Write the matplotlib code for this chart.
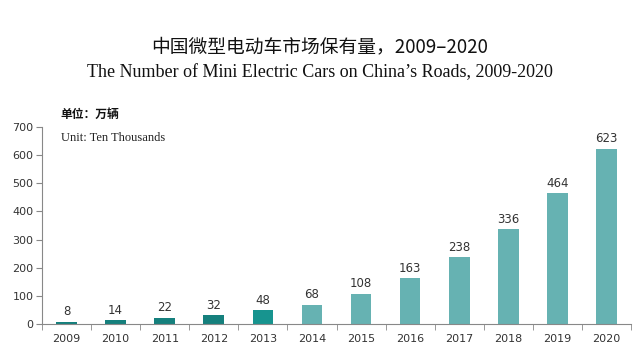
import matplotlib
matplotlib.use("Agg")
import matplotlib.pyplot as plt

years = ["2009", "2010", "2011", "2012", "2013", "2014", "2015", "2016", "2017", "2018", "2019", "2020"]
values = [8, 14, 22, 32, 48, 68, 108, 163, 238, 336, 464, 623]
colors = ["#15807d", "#15807d", "#15807d", "#15807d", "#17948f",
          "#66b2b2", "#66b2b2", "#66b2b2", "#66b2b2", "#66b2b2", "#66b2b2", "#66b2b2"]
yticks = [0, 100, 200, 300, 400, 500, 600, 700]

plt.rcParams['font.family'] = ['DejaVu Sans', 'Noto Sans CJK SC']

fig = plt.figure(figsize=(6.4, 3.61), dpi=100)
ax = fig.add_axes([0.0656, 0.1025, 0.9204, 0.5455])

x = list(range(len(years)))
ax.bar(x, values, width=0.42, color=colors, zorder=2)
for xi, v in zip(x, values):
    ax.text(xi, v + 12, str(v), ha='center', va='bottom', fontsize=8.5, color='#333333')

ax.set_xlim(-0.5, len(years) - 0.5)
ax.set_ylim(0, 700)
ax.set_yticks(yticks)
ax.set_yticklabels([str(t) for t in yticks], fontsize=8, color='#333333')
ax.set_xticks(x)
ax.set_xticklabels(years, fontsize=8, color='#333333')
ax.set_xticks([i - 0.5 for i in range(len(years) + 1)], minor=True)
ax.tick_params(axis='x', which='major', length=0, pad=7)
ax.tick_params(axis='x', which='minor', length=4, color='#888888', direction='out')
ax.tick_params(axis='y', length=4, color='#888888', direction='out', pad=2)
for s in ['top', 'right']:
    ax.spines[s].set_visible(False)
for s in ['left', 'bottom']:
    ax.spines[s].set_color('#888888')
    ax.spines[s].set_linewidth(0.8)

fig.text(0.5, 0.87, "中国微型电动车市场保有量，2009–2020", ha='center', va='center',
         fontsize=13.5, family=['Noto Sans CJK SC', 'DejaVu Sans'], color='#111111')
fig.text(0.5, 0.80, "The Number of Mini Electric Cars on China’s Roads, 2009-2020", ha='center', va='center',
         fontsize=13, family=['Liberation Serif', 'DejaVu Serif'], color='#111111')
fig.text(0.094, 0.682, "单位：万辆", ha='left', va='center', fontsize=8.5,
         family=['Noto Sans CJK SC'], fontweight='bold', color='#111111')
fig.text(0.096, 0.618, "Unit: Ten Thousands", ha='left', va='center', fontsize=9,
         family=['Liberation Serif', 'DejaVu Serif'], color='#222222')

fig.savefig("out.png", dpi=100)
